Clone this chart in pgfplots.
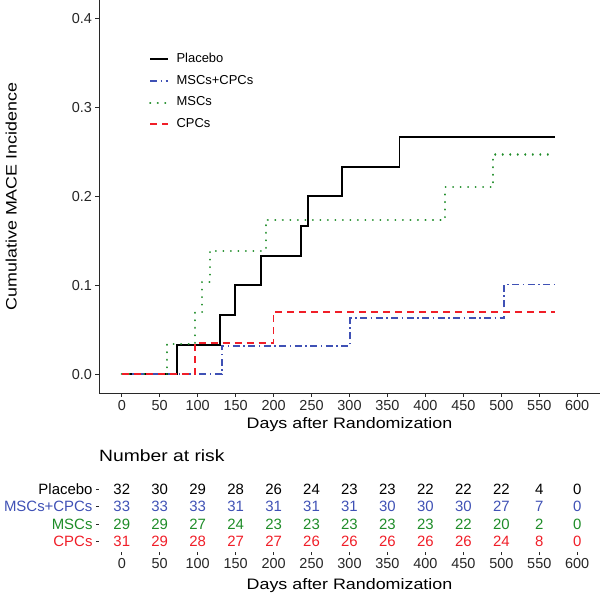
\documentclass[border=0pt]{standalone}
\usepackage{fontspec}
\setmainfont{Liberation Sans}
\newfontfamily\titlefont{Liberation Sans}[FakeStretch=1.18]
\usepackage{pgfplots}
\pgfplotsset{compat=1.18}
\usepackage{pgfplotstable}
\definecolor{cblue}{RGB}{63,81,181}
\definecolor{cgreen}{RGB}{30,140,40}
\definecolor{cred}{RGB}{240,30,40}
\definecolor{axgray}{RGB}{40,40,40}

\pgfplotstableread{
x y n
0 4 32
50 4 30
100 4 29
150 4 28
200 4 26
250 4 24
300 4 23
350 4 23
400 4 22
450 4 22
500 4 22
550 4 4
600 4 0
}\riskplacebo
\pgfplotstableread{
x y n
0 3 33
50 3 33
100 3 33
150 3 31
200 3 31
250 3 31
300 3 31
350 3 30
400 3 30
450 3 30
500 3 27
550 3 7
600 3 0
}\riskboth
\pgfplotstableread{
x y n
0 2 29
50 2 29
100 2 27
150 2 24
200 2 23
250 2 23
300 2 23
350 2 23
400 2 23
450 2 22
500 2 20
550 2 2
600 2 0
}\riskmsc
\pgfplotstableread{
x y n
0 1 31
50 1 29
100 1 28
150 1 27
200 1 27
250 1 26
300 1 26
350 1 26
400 1 26
450 1 26
500 1 24
550 1 8
600 1 0
}\riskcpc

\begin{document}
\begin{tikzpicture}
\useasboundingbox (0,0) rectangle (600bp,-596bp);
\begin{axis}[
  at={(99bp,-393bp)}, anchor=south west,
  scale only axis, width=501bp, height=393bp,
  xmin=-30, xmax=630, ymin=-0.021, ymax=0.4206,
  axis x line*=bottom, axis y line*=left,
  axis line style={-, line width=0.9bp, axgray},
  tick align=outside, major tick length=3.5bp,
  tick style={line width=0.9bp, axgray},
  xtick={0,50,100,150,200,250,300,350,400,450,500,550,600},
  ytick={0,0.1,0.2,0.3,0.4},
  /pgf/number format/assume math mode=true,
  yticklabel style={/pgf/number format/fixed, /pgf/number format/precision=1, /pgf/number format/fixed zerofill},
  ticklabel style={font=\fontsize{14.5}{16}\selectfont, text=black!85},
  xlabel={Days after Randomization},
  ylabel={Cumulative MACE Incidence},
  label style={font=\titlefont\fontsize{15.2}{18}\selectfont},
  xlabel style={at={(axis description cs:0.5,0)}, anchor=center, yshift=-32bp},
  ylabel style={at={(axis description cs:-0.1643,0.5)}, anchor=base},
  legend style={draw=none, fill=none, at={(0.0998,0.867)}, anchor=north west, inner sep=0pt,
    font=\fontsize{13}{15}\selectfont, row sep=8.2bp,
    nodes={inner sep=0pt, text height=10bp, text depth=3.5bp}},
  legend cell align=left,
  /tikz/every odd column/.append style={column sep=7.3bp},
  legend image code/.code={\draw[#1] (0bp,0bp) -- (18bp,0bp);},
]
\addplot[const plot, black, line width=1.7bp] coordinates {
(0,0) (73,0.0333) (129,0.0667) (149,0.1) (183,0.1333) (236,0.1667) (245,0.2) (290,0.2333) (366,0.2667) (571,0.2667)};
\addlegendentry{Placebo}
\addplot[const plot, cblue, line width=1.8bp, dash pattern=on 7bp off 3.5bp on 1.5bp off 3.5bp] coordinates {
(0,0) (131.6,0.032) (301,0.063) (504,0.101) (571,0.101)};
\addlegendentry{MSCs+CPCs}
\addplot[const plot, cgreen, line width=2.1bp, line cap=round, dash pattern=on 0.01bp off 7.5bp] coordinates {
(0,0) (60,0.0345) (97,0.070) (106,0.104) (116,0.139) (189.5,0.1735) (426,0.21) (489,0.247) (571,0.247)};
\addlegendentry{MSCs}
\addplot[const plot, cred, line width=1.8bp, dash pattern=on 7bp off 5bp] coordinates {
(0,0) (96,0.035) (200,0.070) (571,0.070)};
\addlegendentry{CPCs}
\end{axis}

\begin{axis}[
  at={(99bp,-552.2bp)}, anchor=south west,
  scale only axis, width=501bp, height=73.4bp,
  xmin=-30, xmax=630, ymin=0.4, ymax=4.6,
  axis x line*=bottom, axis y line*=left,
  axis line style={draw=none},
  tick align=outside, major tick length=3bp,
  tick style={line width=0.9bp, axgray},
  xtick={0,50,100,150,200,250,300,350,400,450,500,550,600},
  ytick={1,2,3,4},
  yticklabels={\textcolor{cred}{CPCs},\textcolor{cgreen}{MSCs},\textcolor{cblue}{MSCs+CPCs},Placebo},
  /pgf/number format/assume math mode=true,
  xticklabel style={font=\fontsize{14.5}{16}\selectfont, text=black!85},
  yticklabel style={font=\fontsize{15}{16}\selectfont},
  xlabel={Days after Randomization},
  xlabel style={font=\titlefont\fontsize{15.2}{18}\selectfont, at={(axis description cs:0.5,0)}, anchor=center, yshift=-33.5bp},
  title={Number at risk},
  title style={font=\titlefont\fontsize{16.4}{19}\selectfont, at={(axis description cs:0,1)}, anchor=base west, inner sep=0pt, yshift=11.8bp},
  nodes near coords, point meta=explicit symbolic,
  nodes near coords align={center},
  every node near coord/.append style={anchor=center, font=\fontsize{15}{16}\selectfont},
]
\addplot[only marks, mark=none, black] table[x=x, y=y, meta=n] {\riskplacebo};
\addplot[only marks, mark=none, cblue] table[x=x, y=y, meta=n] {\riskboth};
\addplot[only marks, mark=none, cgreen] table[x=x, y=y, meta=n] {\riskmsc};
\addplot[only marks, mark=none, cred] table[x=x, y=y, meta=n] {\riskcpc};
\end{axis}
\end{tikzpicture}
\end{document}
